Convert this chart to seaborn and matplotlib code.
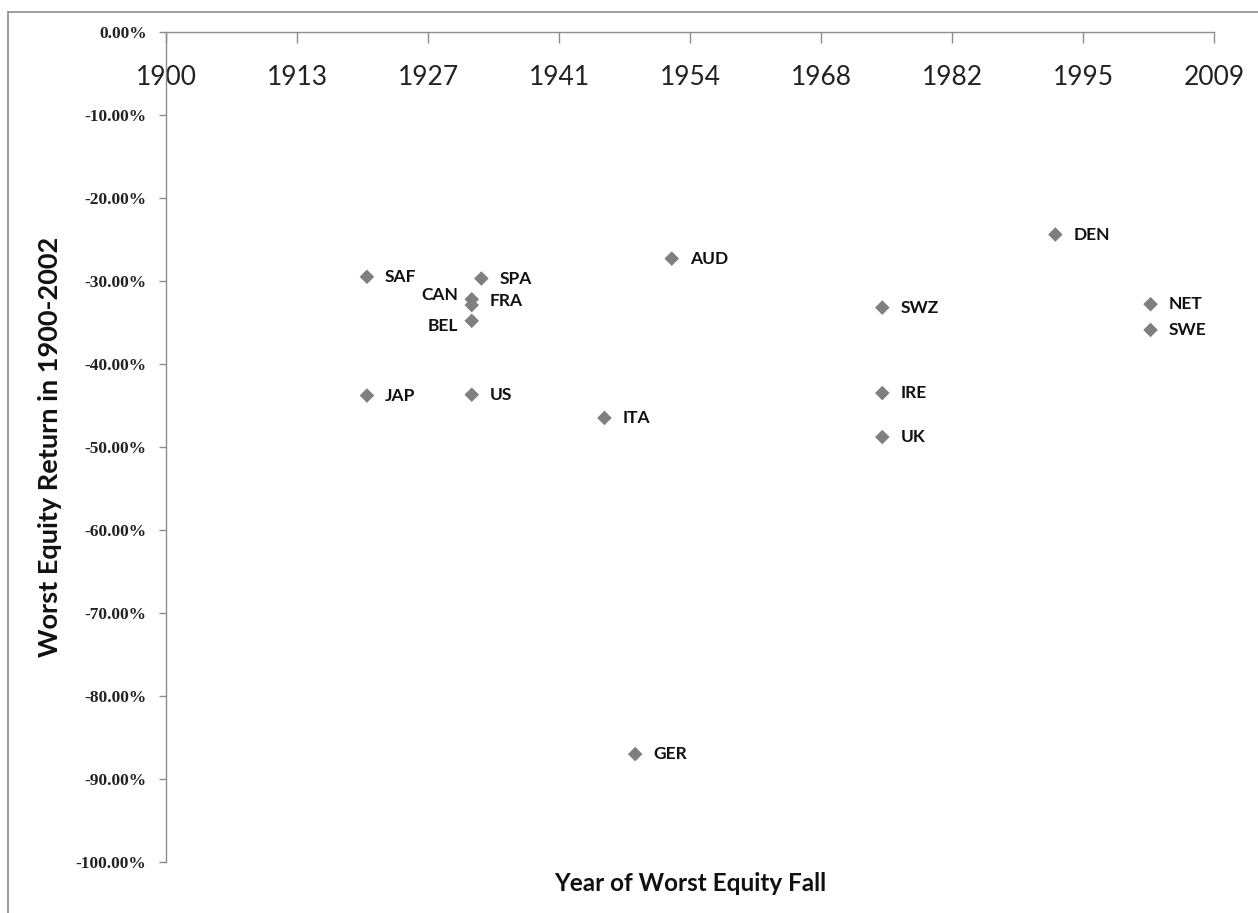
import matplotlib
matplotlib.use("Agg")
import matplotlib.pyplot as plt
from matplotlib.lines import Line2D
import seaborn as sns
import pandas as pd

# ---- data ----
countries = ["SAF", "JAP", "CAN", "FRA", "BEL", "US", "SPA", "ITA",
             "GER", "AUD", "SWZ", "IRE", "UK", "DEN", "NET", "SWE"]
years = [1920.9, 1920.9, 1931.8, 1931.8, 1931.8, 1931.8, 1932.8, 1945.6,
         1948.8, 1952.6, 1974.5, 1974.5, 1974.5, 1992.5, 2002.4, 2002.4]
returns = [-29.5, -43.8, -32.2, -32.9, -34.8, -43.7, -29.7, -46.5,
           -87.0, -27.3, -33.2, -43.5, -48.8, -24.4, -32.8, -35.9]
x_tick_labels = ["1900", "1913", "1927", "1941", "1954", "1968", "1982", "1995", "2009"]
y_ticks = [0, -10, -20, -30, -40, -50, -60, -70, -80, -90, -100]

df = pd.DataFrame({"country": countries, "year": years, "ret": returns})

sns.set_style("white")
plt.rcParams["font.family"] = ["Lato", "DejaVu Sans"]

fig = plt.figure(figsize=(12.58, 9.13), dpi=100)
ax = fig.add_axes([166 / 1258, 1 - 862 / 913, (1214 - 166) / 1258, (862 - 32) / 913])

sns.scatterplot(data=df, x="year", y="ret", marker="D", color="#7f7f7f",
                s=55, edgecolor="none", ax=ax, zorder=3)

# label placement (points offset): most to the right, some to the left
label_style = {"CAN": (-10, 3, "right"), "BEL": (-10, -4, "right"),
               "FRA": (13, 3, "left")}
for c, x, y in zip(countries, years, returns):
    dx, dy, ha = label_style.get(c, (13, 0, "left"))
    ax.annotate(c, (x, y), xytext=(dx, dy), textcoords="offset points",
                ha=ha, va="center", fontsize=12.5, fontweight="bold",
                color="#111111", family=["Lato", "DejaVu Sans"])

ax.set_xlim(1900, 2009)
ax.set_ylim(-100, 0)
x_ticks = [1900 + i * (2009 - 1900) / 8 for i in range(9)]
ax.set_xticks(x_ticks)
ax.set_xticklabels(x_tick_labels)
ax.set_yticks(y_ticks)
ax.set_yticklabels([f"{v:.2f}%" for v in y_ticks])

# Excel-like: horizontal axis crosses at 0 (top)
ax.spines["bottom"].set_position(("data", 0))
ax.spines["top"].set_visible(False)
ax.spines["right"].set_visible(False)
for s in ("bottom", "left"):
    ax.spines[s].set_color("#8c8c8c")
    ax.spines[s].set_linewidth(1.0)

ax.tick_params(axis="x", direction="out", length=8, width=1, color="#8c8c8c",
               pad=16, labelsize=19, labelcolor="#222222", bottom=True)
ax.tick_params(axis="y", direction="out", length=5, width=1, color="#8c8c8c",
               pad=9, left=True)
for lab in ax.get_yticklabels():
    lab.set_family(["Liberation Serif", "DejaVu Serif"])
    lab.set_fontweight("bold")
    lab.set_fontsize(12.5)
    lab.set_color("#222222")
for lab in ax.get_xticklabels():
    lab.set_family(["Lato", "DejaVu Sans"])

ax.set_xlabel("")
ax.set_ylabel("")
fig.text(50 / 1258, 1 - 447 / 913, "Worst Equity Return in 1900-2002", rotation=90,
         ha="center", va="center", fontsize=19.5, fontweight="bold", color="#111111")
fig.text(690 / 1258, 1 - 883 / 913, "Year of Worst Equity Fall",
         ha="center", va="center", fontsize=17.5, fontweight="bold", color="#111111")

# outer chart border (left and top edges visible in reference)
fig.add_artist(Line2D([8 / 1258, 8 / 1258], [0, 1 - 12 / 913], transform=fig.transFigure,
                      color="#8c8c8c", lw=1.2))
fig.add_artist(Line2D([8 / 1258, 1], [1 - 12 / 913, 1 - 12 / 913], transform=fig.transFigure,
                      color="#8c8c8c", lw=1.2))

fig.savefig("out.png", dpi=100, facecolor="white")
